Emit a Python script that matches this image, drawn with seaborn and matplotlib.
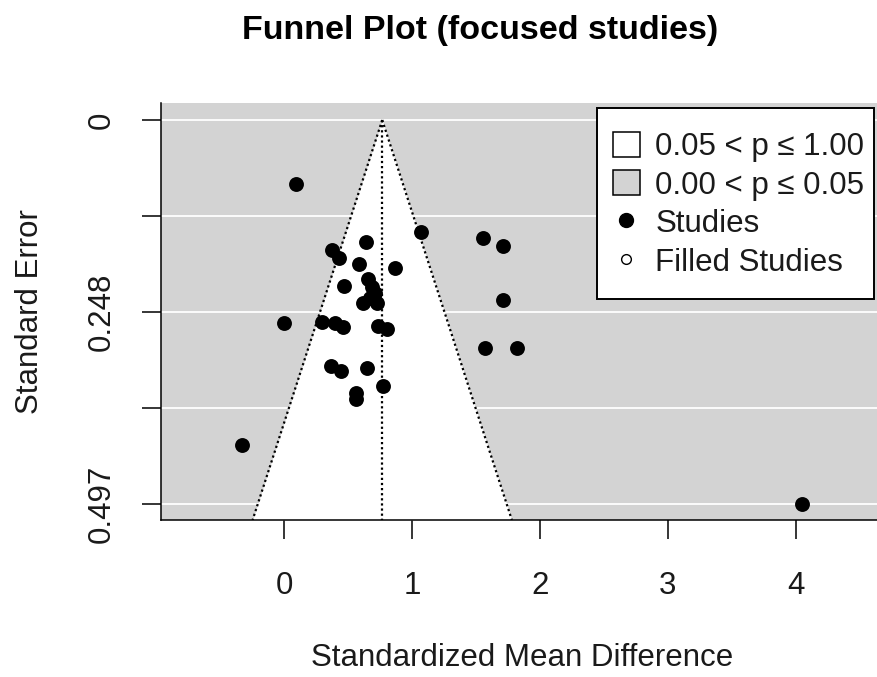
import matplotlib
matplotlib.use("Agg")
import matplotlib.pyplot as plt
from matplotlib.patches import Patch, Rectangle
from matplotlib.lines import Line2D
import numpy as np
import pandas as pd
import seaborn as sns

# Study effect sizes (standardized mean difference) and their standard errors
smd = [0.092, 1.067, 0.637, 0.371, 0.430, 0.585, 0.866, 0.469, 0.657, 0.684,
       0.710, 0.618, 0.723, 0.671, -0.002, 0.293, 0.397, 0.462, 0.736, 0.801,
       0.363, 0.441, 0.645, 0.770, 0.561, 0.561, -0.331, 1.552, 1.709, 1.709,
       1.570, 1.818, 4.049]
se = [0.083, 0.145, 0.158, 0.168, 0.179, 0.186, 0.192, 0.215, 0.206, 0.216,
      0.224, 0.237, 0.237, 0.230, 0.262, 0.261, 0.262, 0.268, 0.267, 0.270,
      0.318, 0.324, 0.321, 0.344, 0.353, 0.361, 0.420, 0.153, 0.163, 0.233,
      0.295, 0.295, 0.497]

# Pooled estimate and the critical value for the 0.05 contour
pooled_smd = 0.766
z_crit = 1.96

x_ticks = [0, 1, 2, 3, 4]
y_ticks = [0.0, 0.124, 0.248, 0.373, 0.497]
y_tick_labels = ["0", "", "0.248", "", "0.497"]

legend_labels = ["0.05 < p \u2264 1.00", "0.00 < p \u2264 0.05",
                 "Studies", "Filled Studies"]

title = "Funnel Plot (focused studies)"
x_label = "Standardized Mean Difference"
y_label = "Standard Error"

sns.set_style("ticks")
plt.rcParams["font.family"] = ["Liberation Sans", "DejaVu Sans"]

W, H = 877, 677
fig = plt.figure(figsize=(W / 100, H / 100), dpi=100)
ax = fig.add_axes([161 / W, 1 - 520 / H, (W - 161) / W, 417 / H])

grey = "#d3d3d3"
ax.set_facecolor(grey)

xlim = (-0.9644, 4.636)
ylim = (0.5173, -0.022)

# white reference lines at the standard error ticks
for yt in y_ticks:
    ax.axhline(yt, color="white", lw=1.3, zorder=1)

# pseudo confidence region (non-significant area)
se_grid = np.array([0.0, ylim[0]])
ax.fill_betweenx(se_grid, pooled_smd - z_crit * se_grid,
                 pooled_smd + z_crit * se_grid,
                 color="white", lw=0, zorder=2)
dot = (0, (1.0, 1.3))
ax.plot(pooled_smd - z_crit * se_grid, se_grid, color="black", lw=1.6,
        linestyle=dot, zorder=3)
ax.plot(pooled_smd + z_crit * se_grid, se_grid, color="black", lw=1.6,
        linestyle=dot, zorder=3)
ax.plot([pooled_smd, pooled_smd], se_grid, color="black", lw=1.6,
        linestyle=dot, zorder=3)

df = pd.DataFrame({"smd": smd, "se": se})
sns.scatterplot(data=df, x="smd", y="se", ax=ax, color="black", s=115,
                linewidth=0, legend=False, zorder=5)

ax.set_xlim(*xlim)
ax.set_ylim(*ylim)

# axes styling
for side in ["top", "right"]:
    ax.spines[side].set_visible(False)
for side in ["left", "bottom"]:
    ax.spines[side].set_linewidth(1.1)
    ax.spines[side].set_color("black")

ax.set_xticks(x_ticks)
ax.set_xticklabels([str(t) for t in x_ticks])
ax.set_yticks(y_ticks)
ax.set_yticklabels(y_tick_labels)
ax.tick_params(axis="both", length=13.7, width=1.1, color="black",
               labelsize=22.5, labelcolor="#1a1a1a")
ax.tick_params(axis="x", pad=23)
ax.tick_params(axis="y", pad=18.5)
for lbl in ax.get_yticklabels():
    lbl.set_rotation(90)
    lbl.set_va("center")

ax.set_xlabel(x_label, fontsize=22.5, color="#1a1a1a")
ax.set_ylabel(y_label, fontsize=22.5, color="#1a1a1a")
ax.xaxis.set_label_coords(0.505, -0.295)
ax.yaxis.set_label_coords(-0.1626, 0.5)

fig.text(480 / W, 1 - 39 / H, title, ha="center", va="baseline",
         fontsize=24.5, fontweight="bold", color="black")

# legend box drawn as a plain rectangle so its padding can differ per side
box = Rectangle((596.7 / W, 1 - 299.3 / H), (874 - 596.7) / W,
                (299.3 - 108.3) / H, transform=fig.transFigure,
                facecolor="white", edgecolor="black", lw=1.4,
                clip_on=False, zorder=9)
ax.add_artist(box)

handles = [
    Patch(facecolor="white", edgecolor="black", linewidth=1.1),
    Patch(facecolor=grey, edgecolor="black", linewidth=1.1),
    Line2D([], [], marker="o", color="black", linestyle="none", markersize=10),
    Line2D([], [], marker="o", markerfacecolor="white", markeredgecolor="black",
           markeredgewidth=1.0, linestyle="none", markersize=7),
]
leg = ax.legend(handles, legend_labels, loc="upper left",
                bbox_to_anchor=(612.7 / W, 1 - 131.7 / H),
                bbox_transform=fig.transFigure,
                fontsize=22.5, frameon=False, borderpad=0, labelspacing=0.26,
                handlelength=0.86, handleheight=0.86, handletextpad=0.5,
                borderaxespad=0)
for t in leg.get_texts():
    t.set_color("#1a1a1a")
leg.set_zorder(10)

fig.savefig("out.png", dpi=100)
